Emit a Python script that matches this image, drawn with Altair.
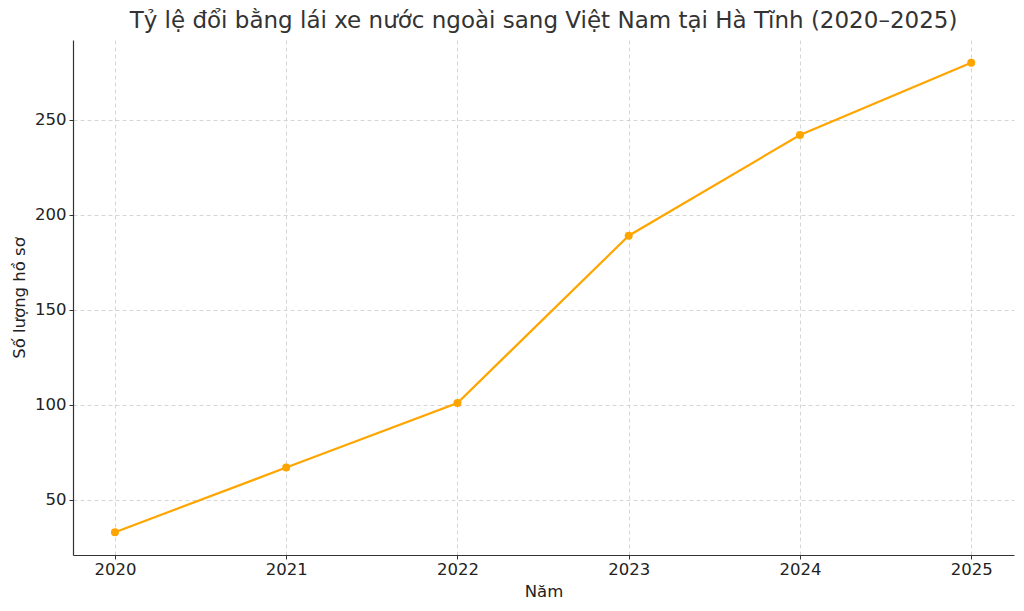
import altair as alt
import pandas as pd

years = [2020, 2021, 2022, 2023, 2024, 2025]
counts = [33, 67, 101, 189, 242, 280]
y_ticks = [50, 100, 150, 200, 250]

df = pd.DataFrame({"Năm": years, "Số lượng hồ sơ": counts})

FONT = "DejaVu Sans"

base = alt.Chart(df).encode(
    x=alt.X(
        "Năm:Q",
        scale=alt.Scale(domain=[2019.755, 2025.25], nice=False, zero=False),
        axis=alt.Axis(
            title="Năm",
            values=years,
            format="d",
            grid=True,
            gridDash=[4, 3],
            gridColor="#cccccc",
            gridWidth=0.8,
            domainColor="#333333",
            domainWidth=1.2,
            tickColor="#333333",
            tickSize=4,
            labelFontSize=16.5,
            labelColor="#222222",
            labelFont=FONT,
            labelPadding=2,
            titleFont=FONT,
            titleFontSize=16.5,
            titleFontWeight="normal",
            titleColor="#222222",
            titlePadding=6,
        ),
    ),
    y=alt.Y(
        "Số lượng hồ sơ:Q",
        scale=alt.Scale(domain=[21, 292], nice=False, zero=False),
        axis=alt.Axis(
            title="Số lượng hồ sơ",
            values=y_ticks,
            grid=True,
            gridDash=[4, 3],
            gridColor="#cccccc",
            gridWidth=0.8,
            domainColor="#333333",
            domainWidth=1.2,
            tickColor="#333333",
            tickSize=4,
            labelFontSize=16.5,
            labelColor="#222222",
            labelFont=FONT,
            labelPadding=3,
            titleFont=FONT,
            titleFontSize=16.5,
            titleFontWeight="normal",
            titleColor="#222222",
            titlePadding=7,
        ),
    ),
)

line = base.mark_line(color="#FFA500", strokeWidth=2.2)
points = base.mark_circle(color="#FFA500", size=64, opacity=1)

chart = (
    (line + points)
    .properties(
        width=941,
        height=515,
        title=alt.TitleParams(
            "Tỷ lệ đổi bằng lái xe nước ngoài sang Việt Nam tại Hà Tĩnh (2020–2025)",
            font=FONT,
            fontSize=23,
            fontWeight="normal",
            color="#333333",
            anchor="middle",
            offset=7,
        ),
        autosize=alt.AutoSizeParams(type="none"),
        padding={"left": 65, "top": 32, "right": 2, "bottom": 48},
    )
    .configure_view(stroke=None)
)

chart.save("out.html", embed_options={"renderer": "svg", "actions": False})
